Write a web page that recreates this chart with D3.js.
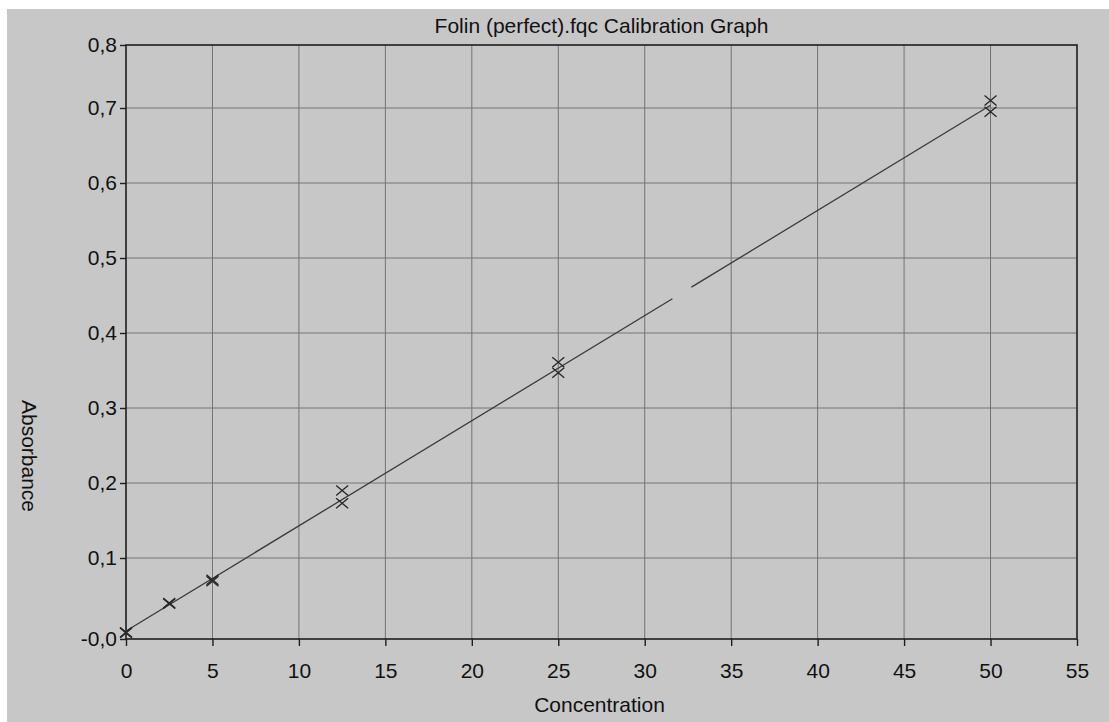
<!DOCTYPE html>
<html>
<head>
<meta charset="utf-8">
<script src="https://cdn.jsdelivr.net/npm/d3@7"></script>
<style>
  html, body { margin: 0; padding: 0; background: #ffffff; }
  svg { display: block; }
  text { font-family: "Liberation Sans", Arial, sans-serif; fill: #111; }
</style>
</head>
<body>
<svg id="chart" width="1109" height="722"></svg>
<script>
// ---- data ----
const title = "Folin (perfect).fqc Calibration Graph";
const xLabel = "Concentration";
const yLabel = "Absorbance";
const concentrations = [0, 0, 2.5, 2.5, 5, 5, 12.5, 12.5, 25, 25, 50, 50];
const absorbances   = [0.000, 0.001, 0.039, 0.040, 0.071, 0.069, 0.190, 0.173, 0.361, 0.347, 0.710, 0.695];
const xTicks = [0, 5, 10, 15, 20, 25, 30, 35, 40, 45, 50, 55];
const yTicks = [-0.008, 0.1, 0.2, 0.3, 0.4, 0.5, 0.6, 0.7, 0.784];
const yTickLabels = ["-0,0", "0,1", "0,2", "0,3", "0,4", "0,5", "0,6", "0,7", "0,8"];
const xDomain = [0, 55];
const yDomain = [-0.008, 0.784];
const lineGap = [31.6, 32.7];   // break visible in the printed fit line

// ---- layout ----
const svg = d3.select("#chart");
const W = 1109, H = 722;
const m = { left: 126, right: 1077, top: 45, bottom: 639 };

svg.append("rect").attr("x", 7).attr("y", 9).attr("width", W - 7).attr("height", H - 9)
  .attr("fill", "#c7c7c7");

const x = d3.scaleLinear().domain(xDomain).range([m.left, m.right]);
const y = d3.scaleLinear().domain(yDomain).range([m.bottom, m.top]);

// grid
const g = svg.append("g");
g.selectAll(".vg").data(xTicks.slice(1, -1)).join("line")
  .attr("x1", d => x(d)).attr("x2", d => x(d))
  .attr("y1", m.top).attr("y2", m.bottom)
  .attr("stroke", "#747474").attr("stroke-width", 1);
g.selectAll(".hg").data(yTicks.slice(1, -1)).join("line")
  .attr("y1", d => y(d)).attr("y2", d => y(d))
  .attr("x1", m.left).attr("x2", m.right)
  .attr("stroke", "#747474").attr("stroke-width", 1);

// frame
svg.append("rect").attr("x", m.left).attr("y", m.top)
  .attr("width", m.right - m.left).attr("height", m.bottom - m.top)
  .attr("fill", "none").attr("stroke", "#1e1e1e").attr("stroke-width", 1.6);

// axes
const xAxis = d3.axisBottom(x).tickValues(xTicks).tickFormat(d3.format("d"))
  .tickSize(7).tickPadding(17);
const ax = svg.append("g").attr("transform", `translate(0,${m.bottom})`).call(xAxis);
const yAxis = d3.axisLeft(y).tickValues(yTicks).tickFormat((d, i) => yTickLabels[i])
  .tickSize(6).tickPadding(3);
const ay = svg.append("g").attr("transform", `translate(${m.left},0)`).call(yAxis);
[ax, ay].forEach(a => {
  a.select(".domain").remove();
  a.selectAll(".tick line").attr("stroke", "#1e1e1e").attr("stroke-width", 1.4);
  a.selectAll(".tick text").attr("font-size", 21)
    .attr("font-family", "'Liberation Sans', Arial, sans-serif").attr("fill", "#111");
});

// regression line (least squares)
const n = concentrations.length;
const mx = d3.mean(concentrations), my = d3.mean(absorbances);
let sxy = 0, sxx = 0;
for (let i = 0; i < n; i++) {
  sxy += (concentrations[i] - mx) * (absorbances[i] - my);
  sxx += (concentrations[i] - mx) ** 2;
}
const slope = sxy / sxx, intercept = my - slope * mx;
const xMax = d3.max(concentrations);
const segs = [[0, lineGap[0]], [lineGap[1], xMax]];
svg.selectAll(".fit").data(segs).join("line")
  .attr("x1", d => x(d[0])).attr("y1", d => y(intercept + slope * d[0]))
  .attr("x2", d => x(d[1])).attr("y2", d => y(intercept + slope * d[1]))
  .attr("stroke", "#3a3a3a").attr("stroke-width", 1.3);

// markers (X)
const pts = concentrations.map((c, i) => [c, absorbances[i]]);
const hw = 6, hh = 5;
svg.append("g").selectAll("path").data(pts).join("path")
  .attr("d", d => {
    const px = x(d[0]), py = y(d[1]);
    return `M${px - hw},${py - hh}L${px + hw},${py + hh}M${px - hw},${py + hh}L${px + hw},${py - hh}`;
  })
  .attr("stroke", "#262626").attr("stroke-width", 1.3).attr("fill", "none");

// labels
svg.append("text").attr("x", (m.left + m.right) / 2).attr("y", 33)
  .attr("text-anchor", "middle").attr("font-size", 21).text(title);
svg.append("text").attr("x", (m.left + m.right) / 2 - 2).attr("y", 712)
  .attr("text-anchor", "middle").attr("font-size", 21).text(xLabel);
svg.append("text").attr("transform", "translate(29,456) rotate(90)")
  .attr("text-anchor", "middle").attr("dominant-baseline", "central")
  .attr("font-size", 21).text(yLabel);
</script>
</body>
</html>
